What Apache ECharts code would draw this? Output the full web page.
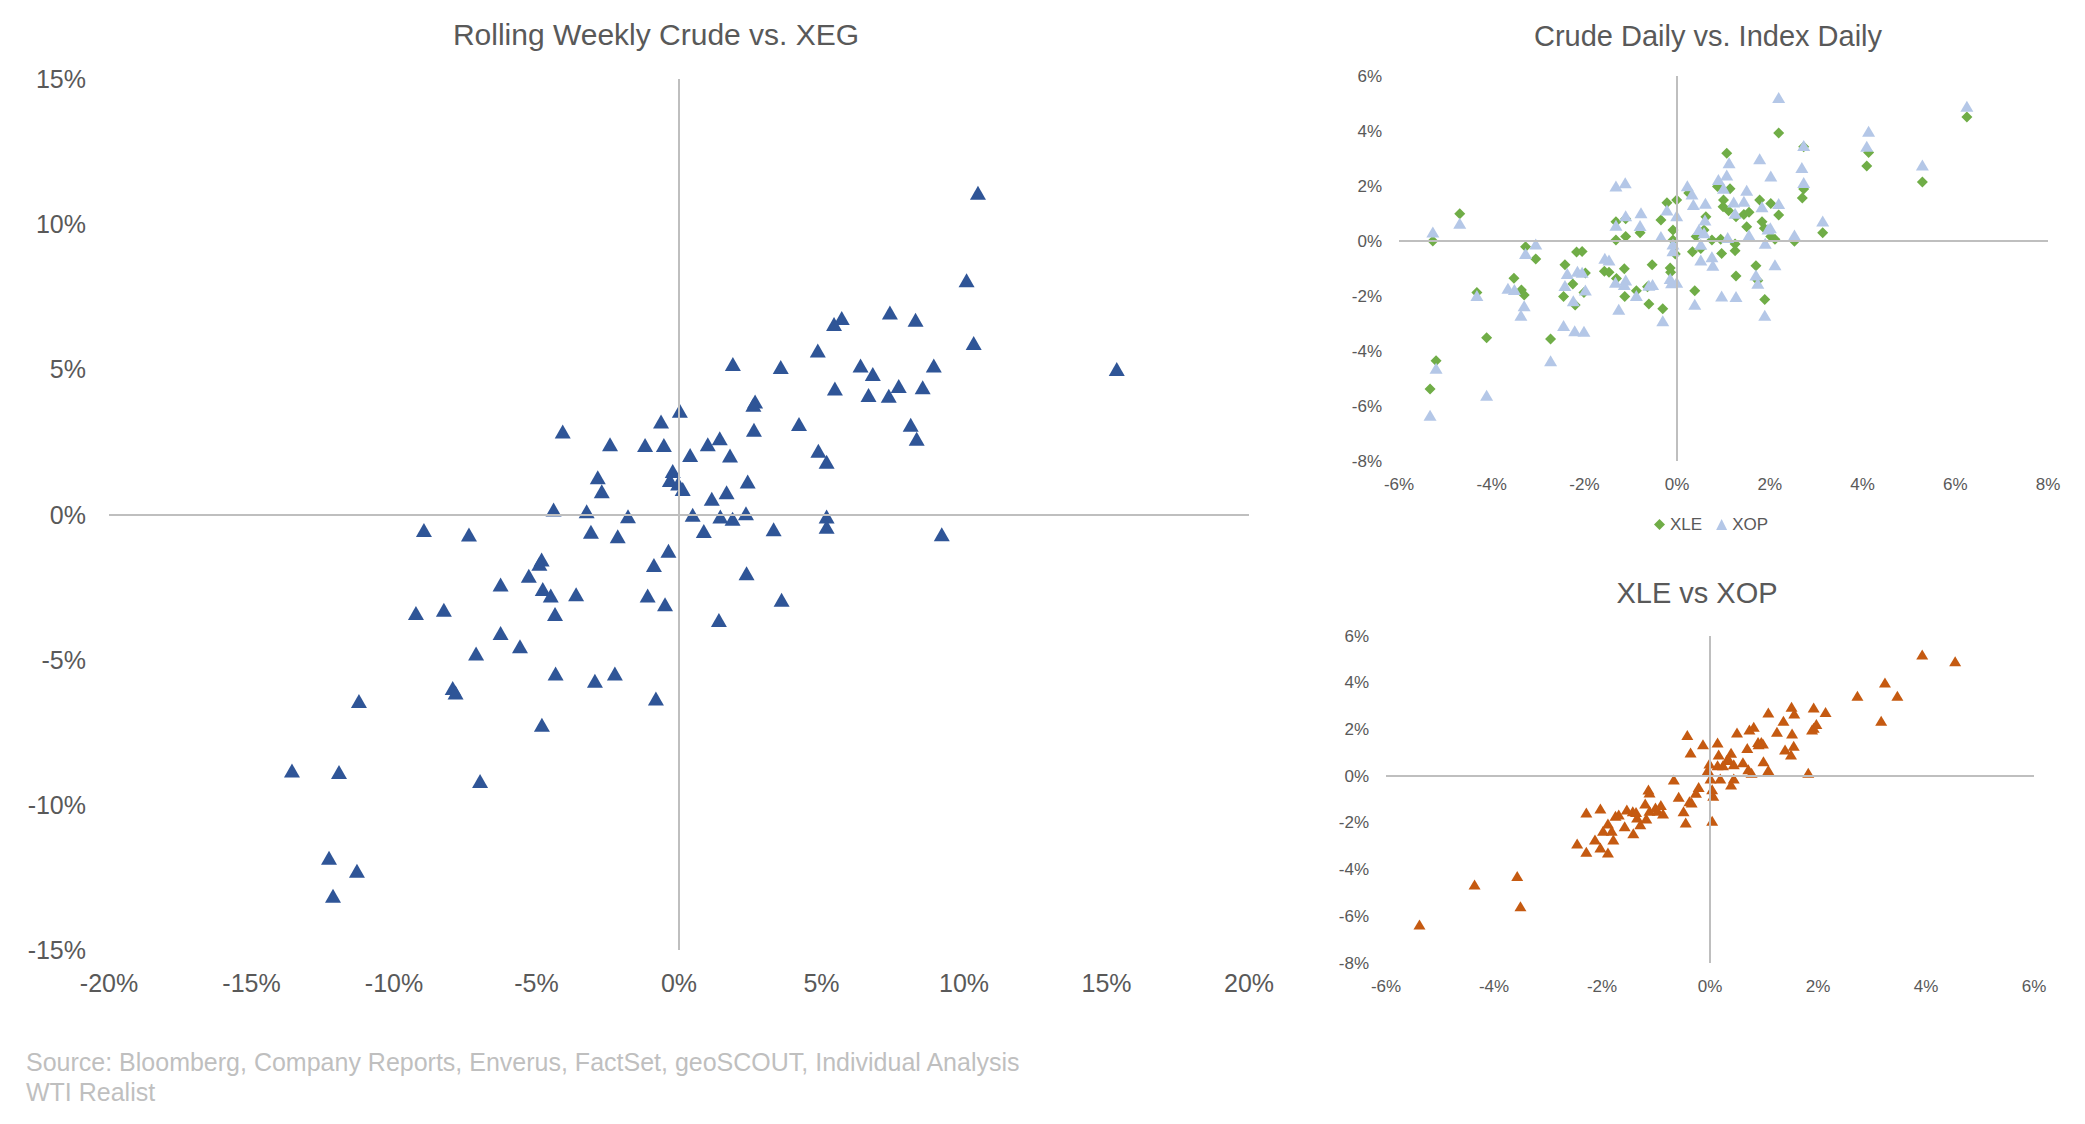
<!DOCTYPE html>
<html>
<head>
<meta charset="utf-8">
<script src="https://cdn.jsdelivr.net/npm/echarts@6/dist/echarts.min.js"></script>
<style>
html,body{margin:0;padding:0;background:#fff;}
#chart{width:2085px;height:1124px;}
</style>
</head>
<body>
<div id="chart"></div>
<script>
// Rolling weekly: [crude %, XEG %]
const weeklyCrudeXeg = [
[-4.08,2.86],[-2.42,2.42],[-1.19,2.39],[-0.53,2.39],[-0.63,3.20],[0.03,3.57],[0.39,2.05],[-2.85,1.28],[-2.71,0.80],[-0.22,1.50],
[-0.32,1.19],[-0.03,1.07],[0.13,0.88],[-4.40,0.17],[-3.24,0.11],[-1.79,-0.06],[0.48,-0.01],[-8.95,-0.53],[-7.37,-0.69],[-3.09,-0.59],
[-2.15,-0.75],[-0.37,-1.25],[-0.88,-1.74],[-4.82,-1.55],[-4.90,-1.70],[-5.27,-2.11],[-6.26,-2.41],[-4.78,-2.57],[-4.50,-2.79],[-3.61,-2.75],
[-4.35,-3.43],[-1.10,-2.79],[-0.49,-3.09],[-9.23,-3.39],[-8.25,-3.28],[-6.26,-4.08],[-5.58,-4.54],[-7.12,-4.79],[-4.33,-5.48],[-2.95,-5.73],
[-2.25,-5.48],[-0.81,-6.34],[-7.94,-5.98],[-7.84,-6.13],[-11.23,-6.42],[-4.81,-7.24],[-13.58,-8.82],[-11.93,-8.87],[-6.98,-9.18],[-12.28,-11.82],
[-11.30,-12.27],[-12.14,-13.13],
[10.49,11.08],[10.09,8.07],[7.40,6.96],[8.30,6.71],[5.71,6.77],[5.44,6.56],[10.34,5.91],[4.87,5.65],[1.89,5.18],[3.57,5.08],
[6.37,5.13],[6.80,4.84],[8.94,5.13],[15.36,5.01],[5.47,4.34],[6.65,4.12],[7.36,4.09],[7.71,4.43],[8.55,4.38],[2.67,3.89],
[2.61,3.78],[2.63,2.92],[4.21,3.12],[8.13,3.09],[8.34,2.61],[1.01,2.42],[1.43,2.63],[1.79,2.03],[4.89,2.20],[5.18,1.82],
[2.41,1.14],[1.67,0.77],[1.15,0.54],[1.45,-0.07],[1.88,-0.15],[2.35,0.04],[5.18,-0.07],[5.18,-0.42],[0.87,-0.57],[3.32,-0.51],
[9.22,-0.68],[2.37,-2.02],[3.60,-2.94],[1.40,-3.63]
];

// Crude daily vs XLE daily
const dailyXle = [
[-5.27,0.00],[-4.69,0.99],[-3.27,-0.21],[-3.05,-0.65],[-3.52,-1.35],[-4.32,-1.87],[-3.36,-1.78],[-3.30,-1.96],[-4.11,-3.52],[-5.20,-4.35],
[-5.33,-5.38],[-2.73,-3.56],[-2.42,-0.86],[-2.17,-0.40],[-2.05,-0.38],[-1.98,-1.16],[-2.25,-1.56],[-2.45,-2.02],[-2.20,-2.33],[-2.01,-1.87],
[-1.57,-1.10],[-1.47,-1.14],[-1.31,-1.36],[-1.32,0.70],[-1.11,0.81],[-1.32,0.04],[-1.11,0.16],[-0.80,0.30],[-1.14,-1.01],[-1.13,-2.02],
[-0.88,-1.81],[-0.61,-2.29],[-0.54,-0.86],[-0.64,-1.66],[-0.31,-2.46],[-0.35,0.76],[-0.22,1.39],[-0.01,1.49],[-0.09,0.40],[-0.09,0.04],
[-0.04,-0.47],[-0.15,-0.98],[-0.14,-1.14],[0.38,-1.81],[0.33,-0.39],[0.41,0.16],[0.51,-0.27],[0.62,0.88],[0.58,0.40],[0.75,0.04],
[0.96,-0.45],[0.94,0.06],[1.07,3.19],[0.87,1.98],[1.14,1.90],[0.99,1.25],[1.11,1.10],[1.27,0.88],[1.25,-0.35],[1.27,-1.27],
[1.00,1.49],[1.25,-0.11],[0.25,1.75],
[2.19,3.93],[2.73,3.43],[4.13,3.22],[4.09,2.73],[5.29,2.15],[6.25,4.51],[2.70,1.56],[2.73,1.89],[2.02,1.36],[2.19,0.95],
[1.78,1.49],[1.83,0.70],[1.88,0.46],[1.50,0.52],[1.44,0.96],[1.55,1.05],[2.02,0.16],[2.11,0.06],[2.53,-0.01],[3.14,0.30],
[1.70,-0.90],[1.74,-1.44],[1.89,-2.13]
];

// Crude daily vs XOP daily
const dailyXop = [
[-5.27,0.33],[-4.69,0.65],[-3.05,-0.11],[-3.27,-0.45],[-4.32,-1.98],[-3.65,-1.72],[-3.51,-1.76],[-3.30,-2.35],[-3.37,-2.70],[-4.11,-5.61],
[-5.20,-4.63],[-5.33,-6.34],[-2.73,-4.35],[-2.45,-3.07],[-2.21,-3.26],[-2.01,-3.28],[-2.37,-1.18],[-2.42,-1.62],[-2.24,-2.17],[-2.15,-1.10],
[-2.05,-1.14],[-1.98,-1.78],[-1.56,-0.63],[-1.47,-0.69],[-1.32,2.00],[-1.12,2.12],[-1.32,0.57],[-1.11,0.92],[-0.78,1.03],[-0.80,0.56],
[-1.33,-1.50],[-1.11,-1.42],[-1.14,-1.58],[-1.26,-2.48],[-0.88,-1.98],[-0.61,-1.61],[-0.53,-1.58],[-0.35,0.16],[-0.22,1.13],[-0.01,0.92],
[-0.09,-0.11],[-0.09,-0.35],[-0.15,-1.36],[-0.01,-1.50],[-0.12,-1.52],[-0.31,-2.90],[0.22,2.01],[0.32,1.71],[0.35,1.33],[0.61,1.37],
[0.47,0.42],[0.58,0.30],[0.51,-0.12],[0.51,-0.69],[0.60,0.76],[0.75,-0.57],[0.77,-0.88],[0.38,-2.30],[0.89,2.24],[1.07,2.40],
[1.12,2.85],[1.00,1.92],[1.22,1.42],[1.25,1.01],[1.09,0.13],[0.96,-2.00],[1.27,-2.02],
[2.19,5.22],[6.25,4.90],[4.13,3.99],[4.09,3.45],[2.73,3.47],[5.29,2.76],[2.69,2.67],[2.73,2.13],[3.14,0.73],[1.78,2.99],
[2.02,2.36],[1.50,1.85],[1.44,1.45],[1.83,1.25],[2.19,1.36],[2.01,0.48],[1.96,0.44],[1.55,0.22],[1.90,-0.08],[2.53,0.22],
[2.11,-0.86],[1.70,-1.24],[1.74,-1.54],[1.89,-2.70]
];

// XLE daily vs XOP daily
const xleVsXop = [
[-5.38,-6.35],[-4.36,-4.64],[-3.57,-4.28],[-3.51,-5.57],[-2.46,-2.88],[-2.29,-3.24],[-2.29,-1.56],[-2.03,-1.38],[-2.13,-2.71],[-2.03,-3.05],
[-1.89,-3.27],[-1.98,-2.34],[-1.89,-2.03],[-1.82,-2.34],[-1.79,-2.71],[-1.75,-1.70],[-1.69,-1.64],[-1.58,-2.14],[-1.54,-1.43],[-1.43,-1.50],
[-1.37,-1.53],[-1.42,-2.45],[-1.35,-1.77],[-1.29,-2.06],[-1.20,-1.17],[-1.18,-1.81],[-1.14,-0.57],[-1.12,-0.70],[-1.12,-1.48],[-1.01,-1.34],
[-0.91,-1.24],[-0.87,-1.60],[-0.97,-1.48],[-0.67,-0.14],[-0.58,-0.88],[-0.49,-1.50],[-0.45,-1.98],[-0.38,-1.07],[-0.34,-1.13],[-0.26,-0.71],
[-0.21,-0.46],[-0.42,1.76],[-0.36,1.01],[-0.13,1.37],[0.14,1.44],[0.16,0.93],[-0.01,0.54],[-0.04,0.26],[0.01,-0.10],[0.04,-0.56],
[0.06,-0.84],[0.04,-1.91],[0.19,-0.10],[0.14,0.47],[0.24,0.47],[0.31,0.69],[0.39,1.00],[0.35,0.71],[0.44,0.51],[0.44,-0.10],
[0.39,-0.36],[0.50,1.87],
[3.93,5.21],[4.54,4.92],[3.24,4.01],[2.73,3.44],[3.47,3.44],[3.17,2.37],[1.08,2.73],[1.51,2.97],[1.56,2.68],[1.92,2.94],
[2.14,2.75],[1.36,2.37],[1.92,2.07],[1.97,2.23],[1.89,2.00],[0.73,2.00],[0.81,2.11],[1.24,1.90],[1.52,1.83],[0.69,1.21],
[0.89,1.46],[0.95,1.46],[0.98,1.40],[0.90,1.37],[1.55,1.30],[1.39,1.14],[1.50,0.93],[0.61,0.60],[0.71,0.30],[0.77,0.14],
[0.99,0.64],[1.08,0.26],[1.82,0.14]
];

// Axis ranges (percent)
const mainX = {min:-20, max:20, interval:5};
const mainY = {min:-15, max:15, interval:5};
const dailyX = {min:-6, max:8, interval:2};
const dailyY = {min:-8, max:6, interval:2};
const pairX = {min:-6, max:6, interval:2};
const pairY = {min:-8, max:6, interval:2};

const titles = ['Rolling Weekly Crude vs. XEG', 'Crude Daily vs. Index Daily', 'XLE vs XOP'];
const sourceLines = ['Source: Bloomberg, Company Reports, Enverus, FactSet, geoSCOUT, Individual Analysis', 'WTI Realist'];

const FONT = '"Liberation Sans", Arial, Helvetica, sans-serif';
const TXT = '#595959';
const LINE = '#BFBFBF';

function axis(grid, r, fontSize, margin) {
  return {
    type: 'value', gridIndex: grid, min: r.min, max: r.max, interval: r.interval,
    axisLine: {show: false}, axisTick: {show: false}, splitLine: {show: false},
    axisLabel: {formatter: '{value}%', color: TXT, fontSize: fontSize, margin: margin, fontFamily: FONT,
                showMinLabel: true, showMaxLabel: true}
  };
}
function zeroLines(xi, yi) {
  return {
    type: 'scatter', xAxisIndex: xi, yAxisIndex: yi, data: [], z: 1, silent: true,
    markLine: {
      silent: true, symbol: ['none', 'none'], animation: false,
      label: {show: false},
      lineStyle: {color: LINE, width: 2, type: 'solid'},
      emphasis: {disabled: true},
      data: [{xAxis: 0}, {yAxis: 0}]
    }
  };
}

const chart = echarts.init(document.getElementById('chart'), null, {renderer: 'svg'});
chart.setOption({
  animation: false,
  backgroundColor: '#ffffff',
  textStyle: {fontFamily: FONT},
  title: [
    {text: titles[0], left: 656, top: 19, textAlign: 'center', padding: 0,
     textStyle: {fontSize: 30, fontWeight: 'normal', color: TXT, fontFamily: FONT}},
    {text: titles[1], left: 1708, top: 21, textAlign: 'center', padding: 0,
     textStyle: {fontSize: 29, fontWeight: 'normal', color: TXT, fontFamily: FONT}},
    {text: titles[2], left: 1697, top: 578, textAlign: 'center', padding: 0,
     textStyle: {fontSize: 29, fontWeight: 'normal', color: TXT, fontFamily: FONT}}
  ],
  legend: {
    data: ['XLE', 'XOP'], left: 1654, top: 516, padding: 0,
    itemWidth: 11, itemHeight: 11, itemGap: 14,
    textStyle: {fontSize: 17, color: TXT, fontFamily: FONT}
  },
  grid: [
    {left: 109, top: 79, width: 1140, height: 871},
    {left: 1399, top: 76, width: 649, height: 385},
    {left: 1386, top: 636, width: 648, height: 327}
  ],
  xAxis: [axis(0, mainX, 25, 20), axis(1, dailyX, 17, 15), axis(2, pairX, 17, 15)],
  yAxis: [axis(0, mainY, 25, 23), axis(1, dailyY, 17, 17), axis(2, pairY, 17, 17)],
  series: [
    zeroLines(0, 0), zeroLines(1, 1), zeroLines(2, 2),
    {name: 'Crude vs XEG', type: 'scatter', xAxisIndex: 0, yAxisIndex: 0, z: 3,
     symbol: 'triangle', symbolSize: [16, 14], itemStyle: {color: '#2F5597', opacity: 1},
     data: weeklyCrudeXeg},
    {name: 'XLE', type: 'scatter', xAxisIndex: 1, yAxisIndex: 1, z: 3,
     symbol: 'diamond', symbolSize: 11, itemStyle: {color: '#70AD47', opacity: 1},
     data: dailyXle},
    {name: 'XOP', type: 'scatter', xAxisIndex: 1, yAxisIndex: 1, z: 4,
     symbol: 'triangle', symbolSize: [13, 11], itemStyle: {color: '#B4C7E7', opacity: 1},
     data: dailyXop},
    {name: 'XLE vs XOP', type: 'scatter', xAxisIndex: 2, yAxisIndex: 2, z: 3,
     symbol: 'triangle', symbolSize: [12, 10], itemStyle: {color: '#C55A11', opacity: 1},
     data: xleVsXop}
  ],
  graphic: [
    {type: 'text', left: 26, top: 1049, silent: true,
     style: {text: sourceLines[0], fill: LINE, font: '25px ' + FONT}},
    {type: 'text', left: 26, top: 1079, silent: true,
     style: {text: sourceLines[1], fill: LINE, font: '25px ' + FONT}}
  ]
});
</script>
</body>
</html>
